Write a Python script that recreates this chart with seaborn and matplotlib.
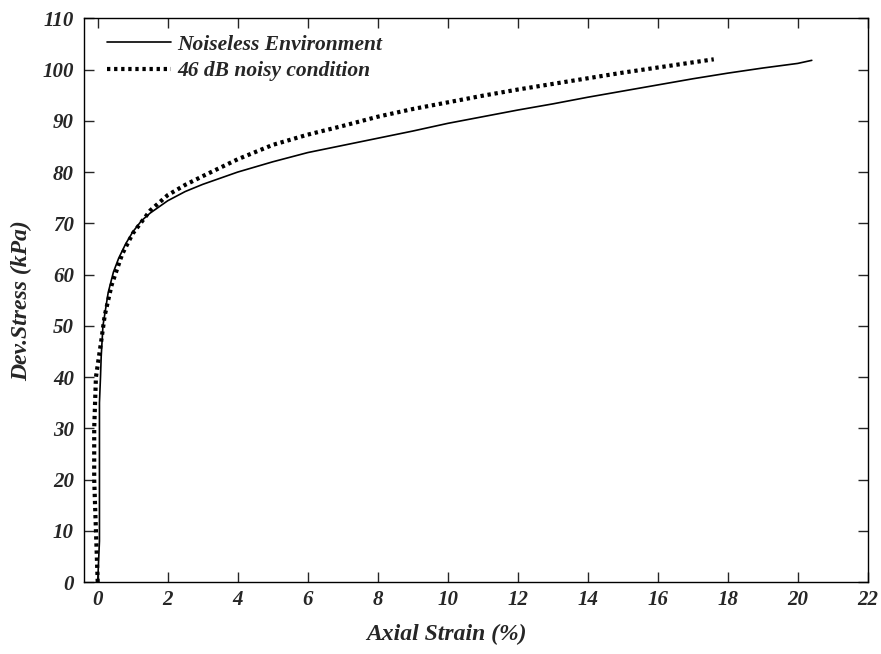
import matplotlib
matplotlib.use("Agg")
import matplotlib.pyplot as plt
import seaborn as sns
import pandas as pd

strain_clean = [0.0, 0.05, 0.05, 0.08, 0.1, 0.15, 0.3, 0.45, 0.6, 0.8, 1.0, 1.25, 1.5, 2.0, 2.5, 3.0, 4.0, 5.0, 6.0,
                7.0, 8.0, 9.0, 10.0, 11.0, 12.0, 13.0, 14.0, 15.0, 16.0, 17.0, 18.0, 19.0, 20.0, 20.4]
stress_clean = [0.0, 8.0, 35.0, 40.0, 44.0, 50.0, 56.5, 60.5, 63.2, 66.0, 68.3, 70.5, 72.0, 74.4, 76.2, 77.6, 80.0,
                82.0, 83.8, 85.2, 86.6, 88.0, 89.5, 90.8, 92.1, 93.3, 94.6, 95.8, 97.0, 98.2, 99.3, 100.3, 101.2, 101.8]

strain_noisy = [0.0, -0.05, -0.1, -0.1, -0.05, 0.1, 0.2, 0.4, 0.7, 1.0, 1.5, 2.0, 2.5, 3.0, 4.0, 5.0, 6.0, 7.0, 8.0,
                9.0, 10.0, 11.0, 12.0, 13.0, 14.0, 15.0, 16.0, 17.0, 17.6]
stress_noisy = [0.0, 10.0, 20.0, 30.0, 40.0, 47.0, 52.0, 58.0, 64.0, 68.0, 72.5, 75.5, 77.5, 79.2, 82.5, 85.3, 87.3,
                89.0, 90.8, 92.3, 93.6, 94.9, 96.1, 97.2, 98.3, 99.4, 100.4, 101.4, 102.0]

x_ticks = [0, 2, 4, 6, 8, 10, 12, 14, 16, 18, 20, 22]
y_ticks = [0, 10, 20, 30, 40, 50, 60, 70, 80, 90, 100, 110]

sns.set_style("white")
plt.rcParams['font.family'] = ['Liberation Serif', 'DejaVu Serif']

df_clean = pd.DataFrame({"strain": strain_clean, "stress": stress_clean})
df_noisy = pd.DataFrame({"strain": strain_noisy, "stress": stress_noisy})

fig = plt.figure(figsize=(8.81, 6.54), dpi=100)
ax = fig.add_axes([0.095, 0.110, 0.890, 0.862])

sns.lineplot(data=df_clean, x="strain", y="stress", sort=False, estimator=None, ax=ax,
             color="black", linewidth=1.2, label="Noiseless Environment")
sns.lineplot(data=df_noisy, x="strain", y="stress", sort=False, estimator=None, ax=ax,
             color="black", linewidth=3.0, linestyle=(0, (0.8, 0.9)), label="46 dB noisy condition")

ax.set_xlim(-0.4, 22)
ax.set_ylim(0, 110)
ax.set_xticks(x_ticks)
ax.set_yticks(y_ticks)
ax.set_xticklabels([str(t) for t in x_ticks], fontsize=15, fontweight="bold", fontstyle="italic")
ax.set_yticklabels([str(t) for t in y_ticks], fontsize=15, fontweight="bold", fontstyle="italic")
ax.tick_params(direction="in", length=7, width=1, top=True, right=True, bottom=True, left=True,
               labeltop=False, labelright=False)
ax.tick_params(axis="y", pad=7)
ax.tick_params(axis="x", pad=6)
for s in ax.spines.values():
    s.set_color("black")
    s.set_linewidth(1.0)

ax.set_xlabel("Axial Strain (%)", fontsize=17, fontweight="bold", fontstyle="italic")
ax.xaxis.set_label_coords(0.463, -0.075)
ax.set_ylabel("Dev.Stress (kPa)", fontsize=17, fontweight="bold", fontstyle="italic")
ax.yaxis.set_label_coords(-0.066, 0.5)

leg = ax.legend(loc="upper left", bbox_to_anchor=(0.008, 1.0), frameon=False, handlelength=3.0,
                handletextpad=0.3, prop={"weight": "bold", "style": "italic", "size": 15.5},
                borderaxespad=0.37, borderpad=0.4, labelspacing=0.28)

fig.savefig("out.png", dpi=100)
